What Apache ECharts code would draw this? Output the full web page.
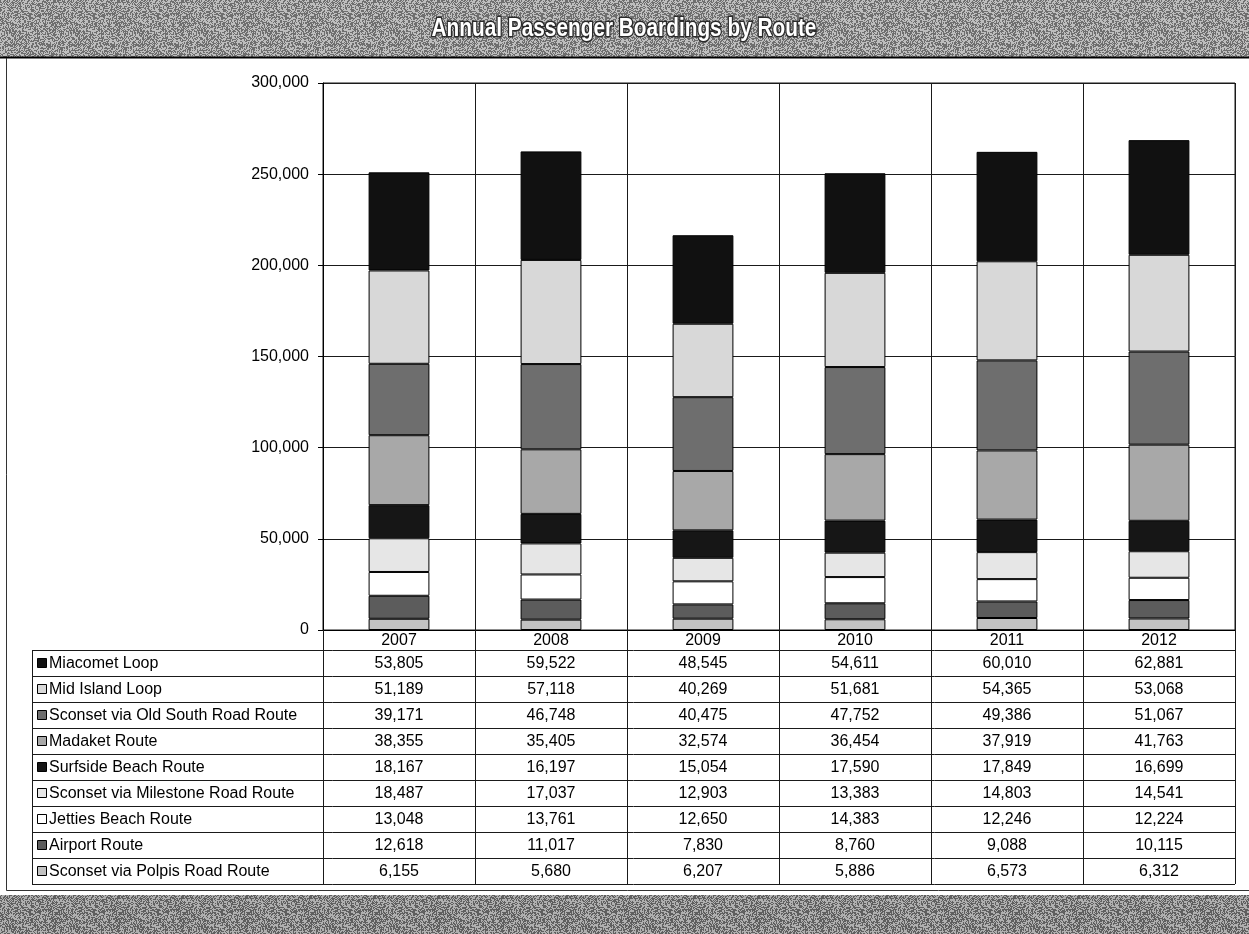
<!DOCTYPE html>
<html>
<head>
<meta charset="utf-8">
<script src="https://cdn.jsdelivr.net/npm/echarts@6/dist/echarts.min.js"></script>
<style>
html,body{margin:0;padding:0;background:#fff;}
#main{width:1249px;height:934px;}
</style>
</head>
<body>
<div id="main"></div>
<script>
// ---------- data ----------
const years = ['2007', '2008', '2009', '2010', '2011', '2012'];
const routeNames = [
  'Miacomet Loop',
  'Mid Island Loop',
  'Sconset via Old South Road Route',
  'Madaket Route',
  'Surfside Beach Route',
  'Sconset via Milestone Road Route',
  'Jetties Beach Route',
  'Airport Route',
  'Sconset via Polpis Road Route'
];
const miacometLoop     = [53805, 59522, 48545, 54611, 60010, 62881];
const midIslandLoop    = [51189, 57118, 40269, 51681, 54365, 53068];
const sconsetOldSouth  = [39171, 46748, 40475, 47752, 49386, 51067];
const madaketRoute     = [38355, 35405, 32574, 36454, 37919, 41763];
const surfsideBeach    = [18167, 16197, 15054, 17590, 17849, 16699];
const sconsetMilestone = [18487, 17037, 12903, 13383, 14803, 14541];
const jettiesBeach     = [13048, 13761, 12650, 14383, 12246, 12224];
const airportRoute     = [12618, 11017, 7830, 8760, 9088, 10115];
const sconsetPolpis    = [6155, 5680, 6207, 5886, 6573, 6312];
const yAxisMin = 0, yAxisMax = 300000, yAxisStep = 50000;
const chartTitle = 'Annual Passenger Boardings by Route';

// table order (top to bottom) ; stack order is the reverse
const routeValues = [miacometLoop, midIslandLoop, sconsetOldSouth, madaketRoute,
  surfsideBeach, sconsetMilestone, jettiesBeach, airportRoute, sconsetPolpis];
const routeColors = ['#111111', '#d8d8d8', '#6e6e6e', '#a8a8a8',
  '#161616', '#e6e6e6', '#ffffff', '#5c5c5c', '#c2c2c2'];

const fmt = v => v.toLocaleString('en-US');
const FONT = 'Arial, "Liberation Sans", sans-serif';

// halftone-like texture for the bands (deterministic hash, decorative only)
function makeBandPattern(lo, hi) {
  const N = 64;
  const c = document.createElement('canvas');
  c.width = N; c.height = N;
  const g = c.getContext('2d');
  const img = g.createImageData(N, N);
  for (let y = 0; y < N; y++) for (let x = 0; x < N; x++) {
    let h = (x * 374761393 + y * 668265263) | 0;
    h = Math.imul(h ^ (h >>> 13), 1274126177);
    h = (h ^ (h >>> 16)) >>> 0;
    const t = (h & 255) / 255;
    const v = t < 0.5 ? lo : hi;
    const i = (y * N + x) * 4;
    img.data[i] = img.data[i + 1] = img.data[i + 2] = v;
    img.data[i + 3] = 255;
  }
  g.putImageData(img, 0, 0);
  return c;
}
const topPattern = makeBandPattern(110, 190);
const bottomPattern = makeBandPattern(95, 175);

const chart = echarts.init(document.getElementById('main'), null, {renderer: 'canvas'});

const series = [];
for (let i = routeNames.length - 1; i >= 0; i--) {
  series.push({
    name: routeNames[i],
    type: 'bar',
    stack: 'total',
    data: routeValues[i],
    barWidth: '40%',
    itemStyle: {color: routeColors[i], borderColor: '#000', borderWidth: 1},
    emphasis: {disabled: true},
    animation: false
  });
}

const GRID = {left: 323, right: 14, top: 83, bottom: 304};

chart.setOption({
  animation: false,
  backgroundColor: '#fff',
  grid: Object.assign({show: true, borderColor: '#1a1a1a', borderWidth: 1, backgroundColor: 'transparent'}, GRID),
  xAxis: {
    type: 'category',
    data: years,
    boundaryGap: true,
    axisLine: {show: true, lineStyle: {color: '#000', width: 1}},
    axisTick: {show: true, alignWithLabel: false, length: 20, inside: false, lineStyle: {color: '#1a1a1a'}},
    axisLabel: {color: '#000', fontSize: 16, fontFamily: FONT, margin: 3},
    splitLine: {show: true, lineStyle: {color: '#1a1a1a', width: 1}}
  },
  yAxis: {
    type: 'value',
    min: yAxisMin, max: yAxisMax, interval: yAxisStep,
    axisLine: {show: true, lineStyle: {color: '#000'}},
    axisTick: {show: true, length: 5, lineStyle: {color: '#000'}},
    axisLabel: {color: '#000', fontSize: 16, fontFamily: FONT, margin: 14, formatter: v => fmt(v)},
    splitLine: {show: true, lineStyle: {color: '#1a1a1a', width: 1}}
  },
  series: series
});

// ---------- frame, bands, title and data table ----------
const c0 = chart.convertToPixel({xAxisIndex: 0}, years[0]);
const c1 = chart.convertToPixel({xAxisIndex: 0}, years[1]);
const catW = c1 - c0;
const plotLeft = c0 - catW / 2;
const plotRight = plotLeft + catW * years.length;
const axisY = chart.convertToPixel({yAxisIndex: 0}, 0);
const headerBottom = axisY + 20;
const rowH = 26;
const tableLeft = 32;
const tableBottom = headerBottom + rowH * routeNames.length;

const g = [];
const line = (x1, y1, x2, y2, w, col) => g.push({
  type: 'line', silent: true,
  shape: {x1, y1, x2, y2},
  style: {stroke: col || '#1a1a1a', lineWidth: w || 1}
});

// top band
g.push({type: 'rect', silent: true, shape: {x: 0, y: 0, width: 1249, height: 57},
  style: {fill: {image: topPattern, repeat: 'repeat'}}});
line(0, 57.5, 1249, 57.5, 2, '#000');
g.push({type: 'text', silent: true, x: 624, y: 29, scaleX: 0.8, originX: 0, originY: 0,
  style: {text: chartTitle, fill: '#fff', stroke: '#2a2a2a', lineWidth: 3,
    font: 'bold 26px "Liberation Sans Narrow", "Arial Narrow", Arial, sans-serif',
    align: 'center', verticalAlign: 'middle'}});
// bottom band
g.push({type: 'rect', silent: true, shape: {x: 0, y: 895, width: 1249, height: 39},
  style: {fill: {image: bottomPattern, repeat: 'repeat'}}});
// outer frame
line(6.5, 58, 6.5, 890.5, 1, '#333');
line(6.5, 890.5, 1249, 890.5, 1, '#333');

// table grid
for (let k = 0; k <= years.length; k++) {
  const x = Math.round(plotLeft + catW * k) + 0.5;
  line(x, axisY, x, tableBottom, 1);
}
line(tableLeft + 0.5, headerBottom, tableLeft + 0.5, tableBottom, 1);
for (let r = 0; r <= routeNames.length; r++) {
  const y = Math.round(headerBottom + rowH * r) + 0.5;
  line(tableLeft, y, plotRight, y, 1);
}
// rows
routeNames.forEach((name, r) => {
  const cy = headerBottom + rowH * r + rowH / 2;
  g.push({type: 'rect', silent: true,
    shape: {x: tableLeft + 5.5, y: Math.round(cy - 5) + 0.5, width: 9, height: 9},
    style: {fill: routeColors[r], stroke: '#000', lineWidth: 1}});
  g.push({type: 'text', silent: true, x: tableLeft + 17, y: cy + 1,
    style: {text: name, fill: '#000', font: '16px ' + FONT, align: 'left', verticalAlign: 'middle'}});
  routeValues[r].forEach((v, k) => {
    const cx = chart.convertToPixel({xAxisIndex: 0}, years[k]);
    g.push({type: 'text', silent: true, x: cx, y: cy + 1,
      style: {text: fmt(v), fill: '#000', font: '16px ' + FONT, align: 'center', verticalAlign: 'middle'}});
  });
});

chart.setOption({graphic: {elements: g}});
</script>
</body>
</html>
